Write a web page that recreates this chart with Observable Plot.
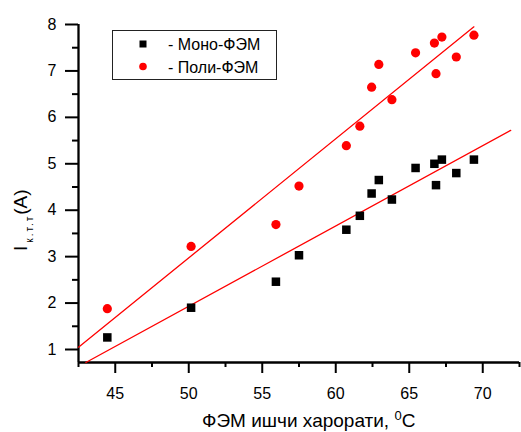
<!DOCTYPE html>
<html>
<head>
<meta charset="utf-8">
<script src="https://cdn.jsdelivr.net/npm/d3@7"></script>
<script src="https://cdn.jsdelivr.net/npm/@observablehq/plot@0.6"></script>
<style>
  body { margin: 0; background: #fff; }
  #chart { position: relative; width: 521px; height: 432px; }
  svg { font-family: "Liberation Sans", Arial, sans-serif; }
</style>
</head>
<body>
<div id="chart"></div>
<script>
// Working temperature of PV module, °C
const temps = [44.46, 50.16, 55.93, 57.5, 60.72, 61.64, 62.44, 62.93, 63.82, 65.43, 66.71, 66.82, 67.22, 68.2, 69.4];
// Short-circuit current, A
const monoValues = [1.26, 1.90, 2.46, 3.03, 3.58, 3.88, 4.36, 4.65, 4.23, 4.91, 5.00, 4.54, 5.09, 4.80, 5.09];
const polyValues = [1.88, 3.22, 3.69, 4.52, 5.39, 5.81, 6.65, 7.14, 6.38, 7.39, 7.60, 6.94, 7.73, 7.30, 7.77];
// Linear fit lines (end points)
const monoFitX = [43.0, 71.9];
const monoFitY = [0.72, 5.72];
const polyFitX = [42.5, 69.4];
const polyFitY = [1.05, 7.95];
// Axis ticks
const xTicks = [45, 50, 55, 60, 65, 70];
const xMinor = [42.5, 47.5, 52.5, 57.5, 62.5, 67.5, 72.5];
const yTicks = [1, 2, 3, 4, 5, 6, 7, 8];
const yMinor = [1.5, 2.5, 3.5, 4.5, 5.5, 6.5, 7.5];
const seriesNames = ["- Моно-ФЭМ", "- Поли-ФЭМ"];
const xLabel = "ФЭМ ишчи харорати, ";

const mono = temps.map((t, i) => ({t, v: monoValues[i]}));
const poly = temps.map((t, i) => ({t, v: polyValues[i]}));
const monoFit = monoFitX.map((t, i) => ({t, v: monoFitY[i]}));
const polyFit = polyFitX.map((t, i) => ({t, v: polyFitY[i]}));

const xDomain = [42.5, 72.5];
const yDomain = [0.72, 8];

const chart = Plot.plot({
  width: 521,
  height: 432,
  marginLeft: 78,
  marginRight: 2,
  marginTop: 24,
  marginBottom: 70,
  x: {domain: xDomain},
  y: {domain: yDomain},
  style: {fontFamily: "'Liberation Sans', Arial, sans-serif", fontSize: "16px", color: "#000", background: "#fff"},
  marks: [
    Plot.axisY(yTicks, {tickSize: 13, tickPadding: 9, strokeWidth: 2, fontSize: 16, label: null, tickFormat: d => d}),
    Plot.axisY(yMinor, {tickSize: 6, text: null, strokeWidth: 2, label: null}),
    Plot.axisX(xTicks, {tickSize: 11, tickPadding: 14, strokeWidth: 2, fontSize: 16, label: null, tickFormat: d => d}),
    Plot.axisX(xMinor, {tickSize: 5, text: null, strokeWidth: 2, label: null}),
    Plot.ruleX([xDomain[0]], {stroke: "#000", strokeWidth: 2.3}),
    Plot.ruleY([yDomain[0]], {stroke: "#000", strokeWidth: 2.3}),
    Plot.line(monoFit, {x: "t", y: "v", stroke: "#ff0000", strokeWidth: 1.3}),
    Plot.line(polyFit, {x: "t", y: "v", stroke: "#ff0000", strokeWidth: 1.3}),
    Plot.dot(mono, {x: "t", y: "v", symbol: "square", r: 4.8, fill: "#000", stroke: "none"}),
    Plot.dot(poly, {x: "t", y: "v", symbol: "circle", r: 4.6, fill: "#ff0000", stroke: "none"})
  ]
});
document.getElementById("chart").appendChild(chart);

const svg = d3.select(chart);
const font = "'Liberation Sans', Arial, sans-serif";

// X axis title with superscript
const xt = svg.append("text")
  .attr("x", 202).attr("y", 427).attr("text-anchor", "start")
  .attr("font-family", font).attr("font-size", 19).attr("fill", "#000");
xt.append("tspan").text(xLabel);
xt.append("tspan").attr("font-size", 13).attr("dy", -7).text("0");
xt.append("tspan").attr("dy", 7).text("C");

// Y axis title with subscript
const yt = svg.append("text")
  .attr("transform", "translate(27,251) rotate(-90)").attr("text-anchor", "start")
  .attr("font-family", font).attr("font-size", 19).attr("fill", "#000");
yt.append("tspan").text("I");
yt.append("tspan").attr("font-size", 10).attr("dy", 6).attr("dx", 3).attr("letter-spacing", 2).text("к.т.т");
yt.append("tspan").attr("dy", -6).text("(A)");

// Legend
const lg = svg.append("g").attr("text-anchor", "start");
lg.append("rect").attr("x", 112.5).attr("y", 30.5).attr("width", 164).attr("height", 49)
  .attr("fill", "#fff").attr("stroke", "#222").attr("stroke-width", 1);
lg.append("rect").attr("x", 139.5).attr("y", 40.5).attr("width", 7).attr("height", 7).attr("fill", "#000");
lg.append("circle").attr("cx", 143).attr("cy", 66.5).attr("r", 3.8).attr("fill", "#ff0000");
lg.append("text").attr("x", 168).attr("y", 50).attr("font-family", font).attr("font-size", 16).attr("fill", "#000").text(seriesNames[0]);
lg.append("text").attr("x", 168).attr("y", 72.5).attr("font-family", font).attr("font-size", 16).attr("fill", "#000").text(seriesNames[1]);
</script>
</body>
</html>
